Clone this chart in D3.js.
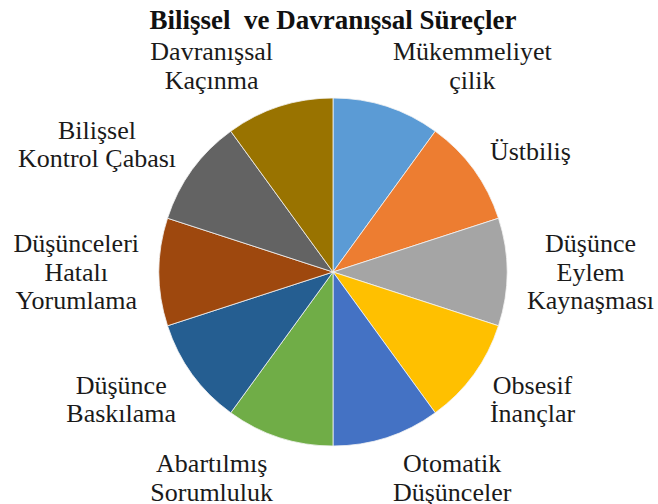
<!DOCTYPE html>
<html>
<head>
<meta charset="utf-8">
</head>
<body marginwidth="0" marginheight="0" leftmargin="0" topmargin="0">
<svg width="658" height="504"></svg>
<script src="https://d3js.org/d3.v7.min.js"></script>
<script>
// chart data
var title = "Bilişsel\u00a0 ve Davranışsal Süreçler";
var categories = [
  "Mükemmeliyet\nçilik",
  "Üstbiliş",
  "Düşünce\nEylem\nKaynaşması",
  "Obsesif\nİnançlar",
  "Otomatik\nDüşünceler",
  "Abartılmış\nSorumluluk",
  "Düşünce\nBaskılama",
  "Düşünceleri\nHatalı\nYorumlama",
  "Bilişsel\nKontrol Çabası",
  "Davranışsal\nKaçınma"
];
var values = [10, 10, 10, 10, 10, 10, 10, 10, 10, 10];
var colors = ["#5b9bd5", "#ed7d31", "#a5a5a5", "#ffc000", "#4472c4",
              "#70ad47", "#255e91", "#9e480e", "#636363", "#997300"];

var fontStack = "'Liberation Serif', monospace";
var baseSize = 22;

// measure text on a canvas instead of the svg
var ctx = document.createElement("canvas").getContext("2d");
function measure(str, bold) {
  ctx.font = (bold ? "bold " : "") + baseSize + "px " + fontStack;
  return ctx.measureText(str).width;
}

var svg = d3.select("svg"),
    cx = 333, cy = 272, radius = 174,
    labelRadius = radius + 20,
    lineHeight = 28.5,
    labelScale = 26 / baseSize,
    titleScale = 27 / baseSize;

svg.append("text")
    .style("font-family", fontStack)
    .style("font-weight", "bold")
    .style("font-size", baseSize + "px")
    .attr("fill", "#111")
    .attr("x", -measure(title, true) / 2)
    .attr("transform", "translate(333,29) scale(" + titleScale + ")")
    .text(title);

var data = values.map(function(v, i) { return {name: categories[i], value: v, color: colors[i]}; });

var pie = d3.pie().sort(null).value(function(d) { return d.value; });
var arc = d3.arc().innerRadius(0).outerRadius(radius);

var arcs = pie(data);

svg.append("g")
    .attr("transform", "translate(" + cx + "," + cy + ")")
  .selectAll("path")
    .data(arcs)
    .enter().append("path")
    .attr("d", arc)
    .attr("fill", function(d) { return d.data.color; })
    .attr("stroke", "#f4f4f4")
    .attr("stroke-width", 0.8);

// labels outside the slices, box pushed away from the edge point
var labels = svg.selectAll("text.label")
    .data(arcs)
    .enter().append("text")
    .attr("class", "label")
    .style("font-family", fontStack)
    .style("font-size", baseSize + "px")
    .attr("fill", "#1a1a1a");

labels.each(function(d) {
  var t = d3.select(this);
  var lines = d.data.name.split("\n");
  var w = 0;
  lines.forEach(function(line, i) {
    var len = measure(line, false);
    t.append("tspan")
      .attr("x", -len / 2)
      .attr("dy", i === 0 ? 0 : lineHeight / labelScale)
      .text(line);
    w = Math.max(w, len * labelScale);
  });
  var h = lines.length * lineHeight;
  var a = (d.startAngle + d.endAngle) / 2;
  var px = labelRadius * Math.sin(a),
      py = -labelRadius * Math.cos(a);
  var side = Math.abs(Math.sin(a)) < 1e-6 ? 0 : (Math.sin(a) > 0 ? 1 : -1);
  var bx = cx + px + side * w / 2,
      by = cy + py - Math.cos(a) * h / 2 * 0.8;
  var top = by - h / 2;
  t.attr("transform", "translate(" + bx + "," + (top + lineHeight * 0.8) + ") scale(" + labelScale + ")");
});
</script>
</body>
</html>
